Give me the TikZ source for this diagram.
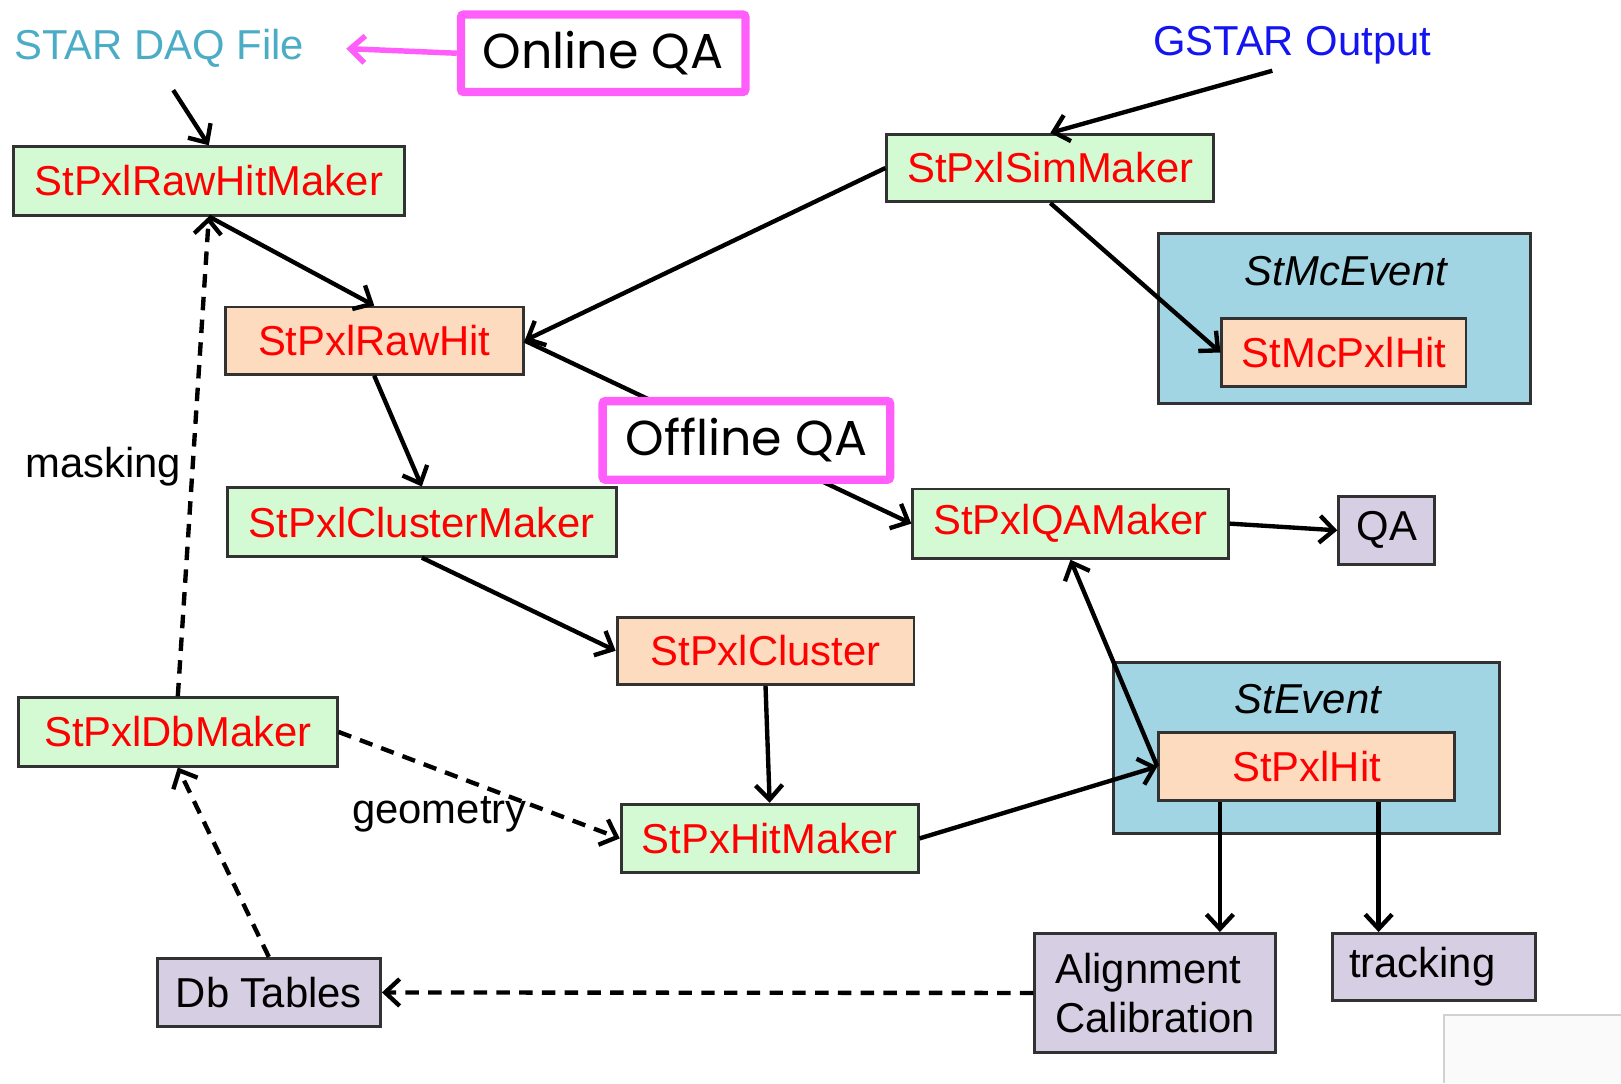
\documentclass[tikz,border=0pt]{standalone}
\usepackage{fontspec}
\setmainfont{Liberation Sans}
\newfontfamily\qafont{Poppins}
\usetikzlibrary{arrows.meta}
\definecolor{makergreen}{RGB}{212,250,212}
\definecolor{hitpeach}{RGB}{252,219,191}
\definecolor{eventblue}{RGB}{162,213,227}
\definecolor{outlilac}{RGB}{214,206,226}
\definecolor{qamagenta}{RGB}{255,94,250}
\definecolor{daqteal}{RGB}{75,172,198}
\definecolor{gstarblue}{RGB}{20,20,240}
\definecolor{boxline}{RGB}{50,50,50}
\begin{document}
\begin{tikzpicture}[x=0.01cm,y=-0.01cm,
  every node/.style={font=\fontsize{11.5}{13.7}\selectfont, inner sep=0pt},
  maker/.style={draw=boxline, fill=makergreen, text=red, line width=0.8pt, minimum height=0.66cm},
  hitbox/.style={draw=boxline, fill=hitpeach, text=red, line width=0.8pt, minimum height=0.65cm},
  store/.style={draw=boxline, fill=eventblue, line width=0.8pt},
  outbox/.style={draw=boxline, fill=outlilac, line width=0.8pt, minimum height=0.65cm},
  qabox/.style={draw=qamagenta, fill=white, line width=2.3pt, rounded corners=0.8pt, font=\qafont\fontsize{13.5}{16}\selectfont},
  flow/.style={-{Straight Barb[length=1.4mm,width=2.6mm]}, line width=1.2pt},
  dep/.style={flow, dash pattern=on 1.3mm off 0.9mm}]
\useasboundingbox (0,0) rectangle (1568,1048);
\fill[black!2] (1397,982) rectangle (1568,1048);
\draw[draw=black!18, line width=0.4pt] (1397,1048) -- (1397,982) -- (1568,982);
% containers
\node[store, minimum width=3.59cm, minimum height=1.64cm] (mcevent) at (1300.5,308) {};
\node[font=\fontsize{11.5}{13.7}\selectfont\itshape] (mctitle) at (1302,262) {StMcEvent};
\node[store, minimum width=3.73cm, minimum height=1.65cm] (stevent) at (1263.5,723.5) {};
\node[font=\fontsize{11.5}{13.7}\selectfont\itshape] (sttitle) at (1265,676) {StEvent};
% plain labels
\node[text=daqteal] (daq) at (154,47) {STAR DAQ File};
\node[text=gstarblue] (gstar) at (1250,44) {GSTAR Output};
\node (masking) at (100,451) {masking};
\node (geometry) at (425,788) {geometry};
\coordinate (daqtip) at (335,47);
% boxes
\node[maker, minimum width=3.78cm] (rawmaker) at (202,175) {StPxlRawHitMaker};
\node[maker, minimum width=3.16cm, minimum height=0.65cm] (simmaker) at (1016,162.5) {StPxlSimMaker};
\node[hitbox, minimum width=2.88cm] (rawhit) at (362,329.5) {StPxlRawHit};
\node[hitbox, minimum width=2.36cm, minimum height=0.66cm] (mchit) at (1300,341) {StMcPxlHit};
\node[maker, minimum width=3.76cm] (clustermaker) at (408,505) {StPxlClusterMaker};
\node[maker, minimum width=3.05cm, minimum height=0.67cm] (qamaker) at (1035.5,506.5) {StPxlQAMaker};
\node[outbox, minimum width=0.93cm, minimum height=0.66cm] (qa) at (1341.5,513) {QA};
\node[hitbox, minimum width=2.87cm] (cluster) at (740.5,629.5) {StPxlCluster};
\node[hitbox, minimum width=2.86cm] (pxlhit) at (1264,741.5) {StPxlHit};
\node[maker, minimum width=3.08cm] (dbmaker) at (172,708) {StPxlDbMaker};
\node[maker, minimum width=2.87cm] (hitmaker) at (744.5,811) {StPxHitMaker};
\node[outbox, minimum width=2.16cm, minimum height=0.66cm] (dbtables) at (260,960) {Db Tables};
\node[outbox, minimum width=2.33cm, minimum height=1.15cm, align=left] (align) at (1117.5,960.5) {Alignment\\Calibration};
\node[outbox, text width=1.64cm, inner xsep=0.16cm, align=left] (tracking) at (1387,935.5) {tracking};
% connectors
\draw[flow, shorten <=0.25cm] (daq.south) -- (rawmaker.north);
\draw[flow, shorten <=0.2cm] (gstar.south) -- (simmaker.north);
\draw[flow] (rawmaker.south) -- (rawhit.north);
\draw[flow] (simmaker.west) -- (rawhit.east);
\draw[flow] (simmaker.south) -- (mchit.west);
\draw[flow] (rawhit.east) -- (qamaker.west);
\draw[flow] (rawhit.south) -- (clustermaker.north);
\draw[flow] (clustermaker.south) -- (cluster.west);
\draw[flow] (cluster.south) -- (hitmaker.north);
\draw[flow] (hitmaker.east) -- (pxlhit.west);
\draw[flow] (pxlhit.west) -- (qamaker.south);
\draw[flow] (qamaker.east) -- (qa.west);
\draw[flow] (pxlhit.202) -- (pxlhit.202 |- align.north);
\draw[flow] (pxlhit.-26) -- (pxlhit.-26 |- tracking.north);
\draw[dep] (dbmaker.north) -- (rawmaker.south);
\draw[dep] (dbmaker.east) -- (hitmaker.west);
\draw[dep] (dbtables.north) -- (dbmaker.south);
\draw[dep] (align.west) -- (dbtables.east);
% QA call-outs
\node[qabox, minimum width=2.75cm, minimum height=0.75cm] (onlineqa) at (583.5,51.5) {Online QA};
\node[qabox, minimum width=2.78cm, minimum height=0.76cm] (offlineqa) at (722,426) {Offline QA};
\draw[flow, draw=qamagenta, line width=1.5pt] (onlineqa.west) -- (daqtip);
\end{tikzpicture}
\end{document}
